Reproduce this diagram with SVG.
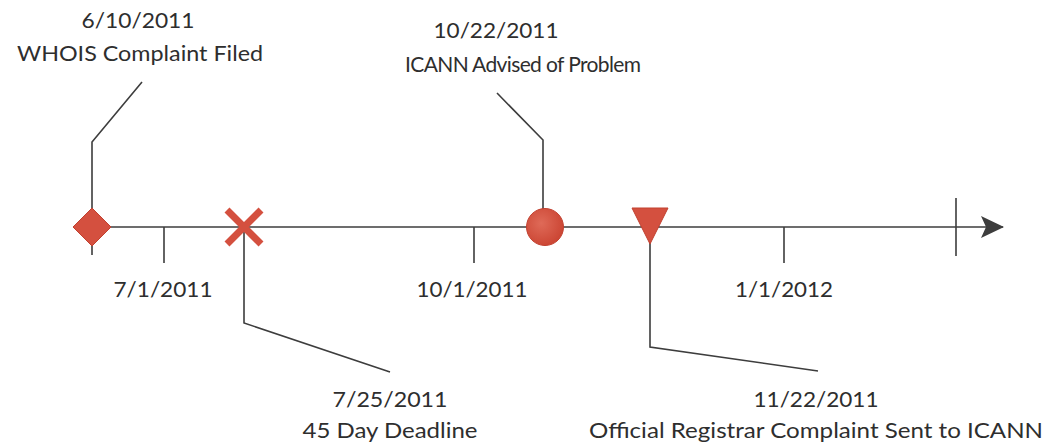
<svg xmlns="http://www.w3.org/2000/svg" width="1050" height="445" viewBox="0 0 1050 445">
<style>
.ln{stroke:#3d3d3d;stroke-width:1.6;fill:none}
.t{font-family:Lato,"Open Sans","Liberation Sans",sans-serif;font-size:21px;fill:#2e2e2e;text-anchor:middle}
.mk{fill:#d4503f;stroke:#c2402f;stroke-width:1}
</style>
<defs>
<radialGradient id="g" cx="0.4" cy="0.4" r="0.7">
<stop offset="0" stop-color="#df6a58"/>
<stop offset="1" stop-color="#c9412f"/>
</radialGradient>
<marker id="arr" markerWidth="24" markerHeight="24" viewBox="0 0 24 24" refX="22" refY="12" orient="auto" markerUnits="userSpaceOnUse">
<path d="M0,1 L23,12 L0,23 L5,12 Z" fill="#3d3d3d"/>
</marker>
</defs>
<g id="connectors">
<line class="ln" x1="92" y1="227" x2="1003" y2="227" marker-end="url(#arr)"/>
<line class="ln" x1="956" y1="198" x2="956" y2="256"/>
<line class="ln" x1="164" y1="227" x2="164" y2="263"/>
<line class="ln" x1="474" y1="227" x2="474" y2="263"/>
<line class="ln" x1="784" y1="227" x2="784" y2="263"/>
<polyline class="ln" points="92,255 92,142 142,82"/>
<polyline class="ln" points="244,227 244,323 390,372"/>
<polyline class="ln" points="543,227 543,140 497,93"/>
<polyline class="ln" points="650,227 650,347 818,371"/>
</g>
<g id="ticklabels">
<text class="t" x="163" y="297" textLength="99" lengthAdjust="spacingAndGlyphs">7/1/2011</text>
<text class="t" x="472" y="297" textLength="111" lengthAdjust="spacingAndGlyphs">10/1/2011</text>
<text class="t" x="784" y="297" textLength="98" lengthAdjust="spacingAndGlyphs">1/1/2012</text>
</g>
<g id="event1">
<polygon class="mk" points="92,208 111,227 92,246 73,227"/>
<text class="t" x="138" y="28" textLength="113" lengthAdjust="spacingAndGlyphs">6/10/2011</text>
<text class="t" x="140" y="61" textLength="246" lengthAdjust="spacingAndGlyphs">WHOIS Complaint Filed</text>
</g>
<g id="event2">
<path d="M227,210 L261,244 M261,210 L227,244" stroke="#d4503f" stroke-width="7" stroke-linecap="butt"/>
<text class="t" x="390" y="407" textLength="115" lengthAdjust="spacingAndGlyphs">7/25/2011</text>
<text class="t" x="390" y="438" textLength="175" lengthAdjust="spacingAndGlyphs">45 Day Deadline</text>
</g>
<g id="event3">
<circle cx="545" cy="227" r="18.5" fill="url(#g)" stroke="#c2402f" stroke-width="1"/>
<text class="t" x="496" y="38" textLength="125" lengthAdjust="spacingAndGlyphs">10/22/2011</text>
<text class="t" x="523" y="72" textLength="236" lengthAdjust="spacing">ICANN Advised of Problem</text>
</g>
<g id="event4">
<polygon class="mk" points="632,208 668,208 650,244"/>
<text class="t" x="816" y="407" textLength="125" lengthAdjust="spacingAndGlyphs">11/22/2011</text>
<text class="t" x="816" y="438" textLength="454" lengthAdjust="spacingAndGlyphs">Official Registrar Complaint Sent to ICANN</text>
</g>
</svg>
